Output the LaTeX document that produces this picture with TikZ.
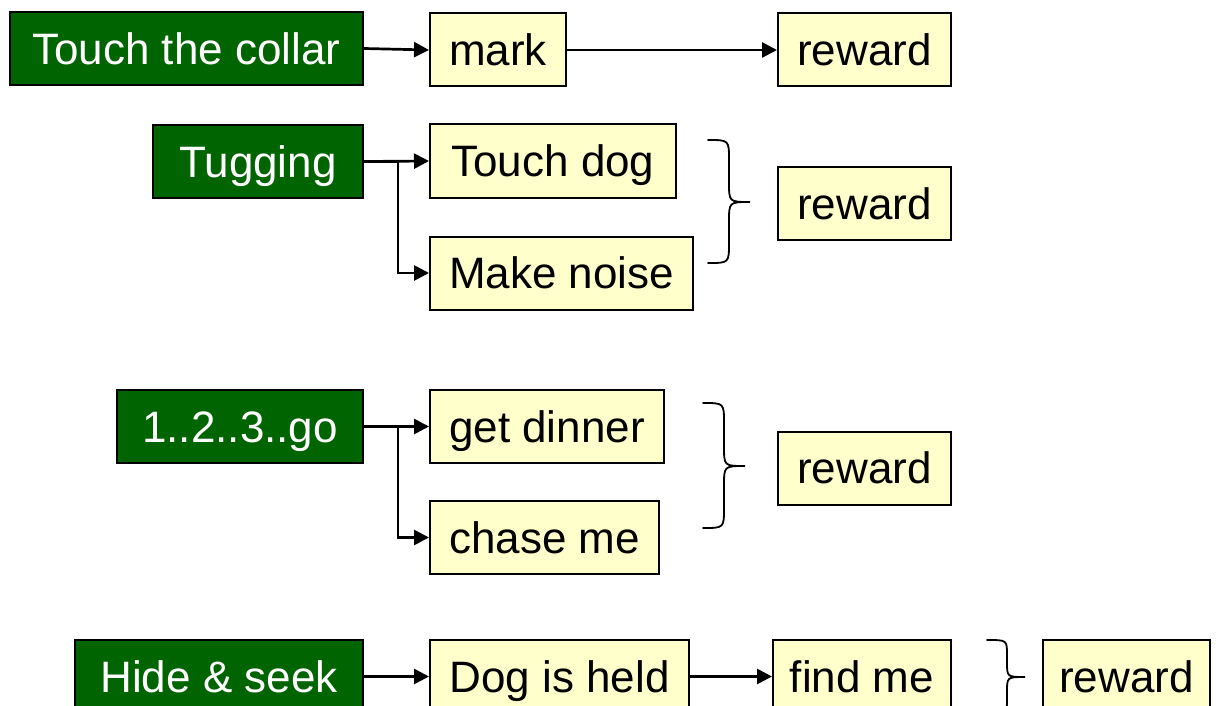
\documentclass[tikz,border=0pt]{standalone}
\usepackage{fontspec}
\setmainfont{Liberation Sans}
\usetikzlibrary{arrows.meta}
\definecolor{actgreen}{RGB}{0,100,0}
\definecolor{stepyellow}{RGB}{255,255,204}
% curly brace: x start, x of vertical stroke, x of tip, y top, y middle, y bottom, bend radius
\newcommand\bracepath[7]{%
  \draw[bracestyle] ({#1},{#4}) .. controls ({#2},{#4}) .. ({#2},{#4+#7})
    -- ({#2},{#5-#7}) .. controls ({#2},{#5}) .. ({#3},{#5})
    .. controls ({#2},{#5}) .. ({#2},{#5+#7})
    -- ({#2},{#6-#7}) .. controls ({#2},{#6}) .. ({#1},{#6});}
\tikzset{
  basebox/.style={draw=black, line width=2pt, inner sep=0pt, minimum height=73pt,
    font=\fontsize{44}{50}\selectfont, text height=31.5pt, text depth=0pt},
  actbox/.style={basebox, fill=actgreen, text=white},
  stepbox/.style={basebox, fill=stepyellow, text=black},
  arr/.style={line width=2.7pt, -{Triangle[length=15pt,width=15pt]}},
  bracestyle/.style={line width=1.8pt, line cap=round}
}
\begin{document}
\begin{tikzpicture}[x=1pt,y=-1pt]
\useasboundingbox (0,0) rectangle (1216,706);

% row 1
\node[actbox, minimum width=353pt] (collar) at (186.5,48.5) {Touch the collar};
\node[stepbox, minimum width=136pt] (mark) at (498,50) {mark};
\node[stepbox, minimum width=173pt] (rewA) at (864.5,50) {reward};
\draw[arr] (collar.east) -- (mark.west);
\draw[arr] (mark.east) -- (rewA.west);

% row 2
\node[actbox, minimum width=210pt] (tug) at (258,161.5) {Tugging};
\node[stepbox, minimum width=246pt] (tdog) at (553,161) {Touch dog};
\node[stepbox, minimum width=263pt] (noise) at (561.5,273) {Make noise};
\node[stepbox, minimum width=173pt] (rewB) at (864.5,203.5) {reward};
\draw[arr] (tug.east) -- (tdog.west);
\draw[arr] (tug.east) -- ++(34,0) |- (noise.west);
\bracepath{708}{729}{750}{140}{202}{263}{20}

% row 3
\node[actbox, minimum width=246pt] (go) at (240,426.5) {1..2..3..go};
\node[stepbox, minimum width=234pt] (dinner) at (547,426.5) {get dinner};
\node[stepbox, minimum width=229pt] (chase) at (544.5,537.5) {chase me};
\node[stepbox, minimum width=173pt] (rewC) at (864.5,468) {reward};
\draw[arr] (go.east) -- (dinner.west);
\draw[arr] (go.east) -- ++(34,0) |- (chase.west);
\bracepath{703}{724}{745}{403}{466}{528}{20}

% row 4
\node[actbox, minimum width=288pt] (hide) at (219,676.5) {Hide \& seek};
\node[stepbox, minimum width=259pt] (held) at (559.5,676.5) {Dog is held};
\node[stepbox, minimum width=178pt] (find) at (862,676.5) {find me};
\node[stepbox, minimum width=167pt] (rewD) at (1126.5,676.5) {reward};
\draw[arr] (hide.east) -- (held.west);
\draw[arr] (held.east) -- (find.west);
\bracepath{987}{1007}{1025}{640}{677}{714}{15}
\end{tikzpicture}
\end{document}
